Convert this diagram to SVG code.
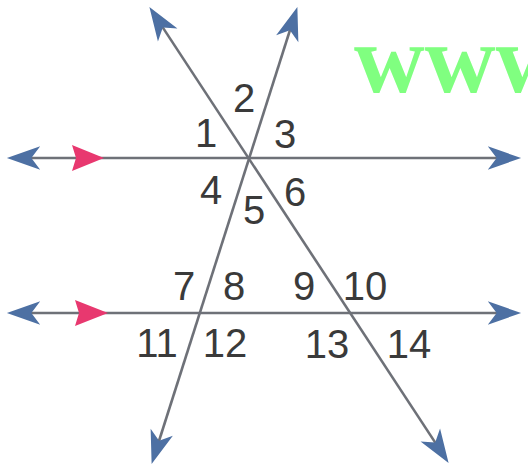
<svg xmlns="http://www.w3.org/2000/svg" width="528" height="473" viewBox="0 0 528 473">
  <style>
    .ln { stroke: #6e7178; stroke-width: 2.6; fill: none; marker-start: url(#dart); marker-end: url(#dart); }
    .lbl { font-family: "Liberation Sans", Arial, sans-serif; font-size: 40px; fill: #3a3a3a; text-anchor: middle; }
    .pink { fill: #e8386f; }
    .wm { font-family: "Liberation Serif", "Times New Roman", serif; font-weight: bold; font-size: 98px; fill: #80ff80; }
  </style>
  <defs>
    <marker id="dart" markerUnits="userSpaceOnUse" markerWidth="40" markerHeight="30" viewBox="-2 -12 36 24" refX="20" refY="0" orient="auto-start-reverse">
      <path d="M30,0 L0,-10.5 L8,0 L0,10.5 Z" fill="#4d70a3"/>
    </marker>
  </defs>
  <rect width="528" height="473" fill="#ffffff"/>
  <text class="wm" x="354" y="92">www</text>
  <g id="connectors">
    <path id="line-top" class="ln" d="M18,158 H510"/>
    <path id="line-bottom" class="ln" d="M18,313 H510"/>
    <path id="transversal-a" class="ln" d="M155.5,16.4 L442.5,453.6"/>
    <path id="transversal-b" class="ln" d="M294,17.5 L155,453.5"/>
  </g>
  <g id="parallel-marks">
    <polygon class="pink" points="72,145 104,158 72,171 76,158"/>
    <polygon class="pink" points="75,300 108,313 75,326 79,313"/>
  </g>
  <g id="labels">
    <text class="lbl" x="206" y="147">1</text>
    <text class="lbl" x="244" y="112">2</text>
    <text class="lbl" x="285" y="148">3</text>
    <text class="lbl" x="211" y="204">4</text>
    <text class="lbl" x="254" y="224">5</text>
    <text class="lbl" x="295" y="206">6</text>
    <text class="lbl" x="184" y="300">7</text>
    <text class="lbl" x="234" y="300">8</text>
    <text class="lbl" x="304" y="300">9</text>
    <text class="lbl" x="365" y="300">10</text>
    <text class="lbl" x="157" y="357">11</text>
    <text class="lbl" x="225" y="357">12</text>
    <text class="lbl" x="327" y="358">13</text>
    <text class="lbl" x="409" y="358">14</text>
  </g>
</svg>
